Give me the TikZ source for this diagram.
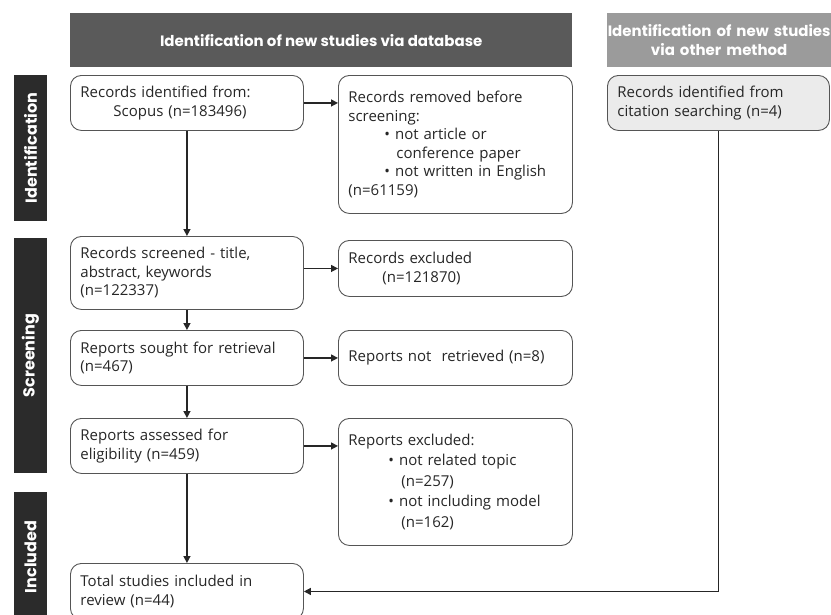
\documentclass[tikz,border=0pt]{standalone}
\usepackage{fontspec}
\setmainfont{Open Sans}
\newfontfamily\headfont{Poppins}
\usetikzlibrary{arrows.meta,positioning}
\definecolor{headdark}{HTML}{5A5A5A}
\definecolor{headlight}{HTML}{9B9B9B}
\definecolor{barblack}{HTML}{2B2B2B}
\definecolor{boxgrey}{HTML}{EBEBEB}
\definecolor{edgegrey}{HTML}{555555}
\tikzstyle{box} = [rectangle, rounded corners=11pt, draw=edgegrey, line width=0.9pt, anchor=north west, inner xsep=10pt, inner ysep=0pt, align=left, text=black!85, font=\fontsize{15}{18.5}\selectfont]
\tikzstyle{head} = [rectangle, anchor=north west, inner sep=0pt, text=white, align=center, font=\headfont\bfseries\fontsize{15}{19}\selectfont]
\tikzstyle{side} = [rectangle, fill=barblack, inner sep=0pt, text=white, rotate=90, minimum height=33pt, font=\headfont\bfseries\fontsize{16}{18}\selectfont]
\tikzstyle{arrow} = [line width=1.4pt, draw=black!85, -{Triangle[length=7pt,width=7pt]}]

\begin{document}
\begin{tikzpicture}[x=1pt,y=-1pt]
      \useasboundingbox (0,0) rectangle (831,614);
      % column headers
      \node[head, fill=headdark, minimum width=502pt, minimum height=54pt] (dbhead) at (70,13) {Identification of new studies via database};
      \node[head, fill=headlight, text width=224pt, minimum height=54pt] (otherhead) at (607,13) {Identification of new studies\\via other method};
      % phase bars
      \node[side, minimum width=146pt] (idbar) at (30.5,148) {Identification};
      \node[side, minimum width=235pt] (scbar) at (30.5,355.5) {Screening};
      \node[side, minimum width=130pt] (inbar) at (30.5,557) {Included};
      % boxes
      \node[box, text width=213pt, minimum height=55pt] (recid) at (70,75) {Records identified from:\\\hspace*{33pt}Scopus (n=183496)};
      \node[box, text width=214pt, minimum height=138pt] (recrem) at (338,75) {Records removed before\\screening:\\\hspace*{36pt}\textbullet\ not article or\\\hspace*{48pt}conference paper\\\hspace*{36pt}\textbullet\ not written in English\\(n=61159)};
      \node[box, fill=boxgrey, text width=202pt, minimum height=55pt] (citation) at (607,75) {Records identified from\\citation searching (n=4)};
      \node[box, text width=213pt, minimum height=73pt] (screened) at (70,236) {Records screened - title,\\abstract, keywords\\(n=122337)};
      \node[box, text width=214pt, minimum height=56pt] (recexcl) at (338,240) {Records excluded\\\hspace*{34pt}(n=121870)};
      \node[box, text width=213pt, minimum height=55pt] (sought) at (70,330) {Reports sought for retrieval\\(n=467)};
      \node[box, text width=214pt, minimum height=55pt] (notret) at (338,330) {Reports not~ retrieved (n=8)};
      \node[box, text width=213pt, minimum height=55pt] (assessed) at (70,418) {Reports assessed for\\eligibility (n=459)};
      \node[box, text width=214pt, minimum height=127pt, font=\fontsize{15}{20.5}\selectfont] (repexcl) at (338,418) {Reports excluded:\\\hspace*{40pt}\textbullet\ not related topic\\\hspace*{53pt}(n=257)\\\hspace*{40pt}\textbullet\ not including model\\\hspace*{53pt}(n=162)};
      \node[box, text width=213pt, minimum height=56pt] (included) at (70,563) {Total studies included in\\review (n=44)};
      % arrows
      \draw[arrow] (recid.east) -- (recid.east -| recrem.west);
      \draw[arrow] (recid.south) -- (screened.north);
      \draw[arrow] (screened.east |- recexcl.west) -- (recexcl.west);
      \draw[arrow] (screened.south) -- (sought.north);
      \draw[arrow] (sought.east) -- (notret.west);
      \draw[arrow] (sought.south) -- (assessed.north);
      \draw[arrow] (assessed.east) -- (assessed.east -| repexcl.west);
      \draw[arrow] (assessed.south) -- (included.north);
      \draw[arrow] (citation.south) |- (included.east);
\end{tikzpicture}
\end{document}
